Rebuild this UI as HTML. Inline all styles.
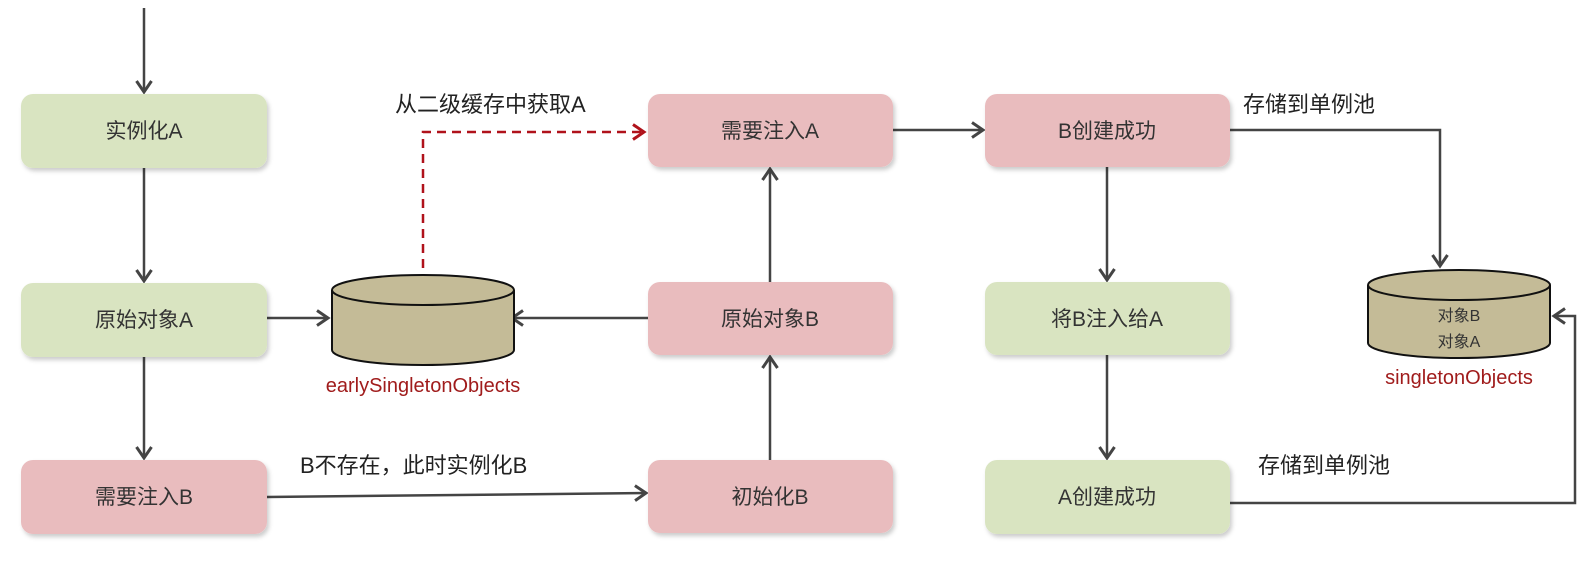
<!DOCTYPE html>
<html><head><meta charset="utf-8"><style>
body{margin:0;background:#fff;width:1586px;height:583px;overflow:hidden}
svg text{font-family:"Liberation Sans","Noto Sans CJK SC",sans-serif}
</style></head><body>
<svg width="1586" height="583" viewBox="0 0 1586 583">
<defs>
<marker id="a" markerWidth="16" markerHeight="18" refX="13" refY="9" orient="auto" markerUnits="userSpaceOnUse"><path d="M2,1.5 L13,9 L2,16.5" fill="none" stroke="#444" stroke-width="3"/></marker>
<marker id="r" markerWidth="16" markerHeight="18" refX="13" refY="9" orient="auto" markerUnits="userSpaceOnUse"><path d="M2,1.5 L13,9 L2,16.5" fill="none" stroke="#b0121b" stroke-width="3"/></marker>
<filter id="s" x="-5%" y="-5%" width="115%" height="125%"><feDropShadow dx="2" dy="3" stdDeviation="2" flood-opacity="0.2"/></filter>
</defs>
<g stroke="#444" stroke-width="2.5" fill="none">
<line x1="144" y1="8" x2="144" y2="92" marker-end="url(#a)"/>
<line x1="144" y1="168" x2="144" y2="281" marker-end="url(#a)"/>
<line x1="144" y1="357" x2="144" y2="458" marker-end="url(#a)"/>
<line x1="267" y1="318" x2="328" y2="318" marker-end="url(#a)"/>
<line x1="648" y1="318" x2="512" y2="318" marker-end="url(#a)"/>
<line x1="267" y1="497" x2="646" y2="493" marker-end="url(#a)"/>
<line x1="770" y1="460" x2="770" y2="357" marker-end="url(#a)"/>
<line x1="770" y1="282" x2="770" y2="169" marker-end="url(#a)"/>
<line x1="893" y1="130" x2="983" y2="130" marker-end="url(#a)"/>
<line x1="1107" y1="167" x2="1107" y2="280" marker-end="url(#a)"/>
<line x1="1107" y1="355" x2="1107" y2="458" marker-end="url(#a)"/>
<polyline points="1230,130 1440,130 1440,266" marker-end="url(#a)"/>
<polyline points="1230,503 1575,503 1575,316 1554,316" marker-end="url(#a)"/>
</g>
<polyline points="423,268 423,132 644,132" fill="none" stroke="#b0121b" stroke-width="2.5" stroke-dasharray="9,6" marker-end="url(#r)"/>
<g filter="url(#s)">
<rect x="21" y="94" width="246" height="74" rx="12" fill="#d9e4c1"/>
<rect x="21" y="283" width="246" height="74" rx="12" fill="#d9e4c1"/>
<rect x="21" y="460" width="246" height="74" rx="12" fill="#e9bcbe"/>
<rect x="648" y="94" width="245" height="73" rx="12" fill="#e9bcbe"/>
<rect x="648" y="282" width="245" height="73" rx="12" fill="#e9bcbe"/>
<rect x="648" y="460" width="245" height="73" rx="12" fill="#e9bcbe"/>
<rect x="985" y="94" width="245" height="73" rx="12" fill="#e9bcbe"/>
<rect x="985" y="282" width="245" height="73" rx="12" fill="#d9e4c1"/>
<rect x="985" y="460" width="245" height="74" rx="12" fill="#d9e4c1"/>
</g>
<g stroke="#111" stroke-width="2" fill="#c4bb97">
<path d="M332,290 L332,350 A91,15 0 0 0 514,350 L514,290"/>
<ellipse cx="423" cy="290" rx="91" ry="15"/>
<path d="M1368,285 L1368,343 A91,15 0 0 0 1550,343 L1550,285"/>
<ellipse cx="1459" cy="285" rx="91" ry="15"/>
</g>
<g font-size="21" fill="#333" text-anchor="middle">
<text x="144" y="138">实例化A</text>
<text x="144" y="327">原始对象A</text>
<text x="144" y="504">需要注入B</text>
<text x="770" y="138">需要注入A</text>
<text x="770" y="326">原始对象B</text>
<text x="770" y="504">初始化B</text>
<text x="1107" y="138">B创建成功</text>
<text x="1107" y="326">将B注入给A</text>
<text x="1107" y="504">A创建成功</text>
<text x="1459" y="321" font-size="16">对象B</text>
<text x="1459" y="347" font-size="16">对象A</text>
</g>
<g font-size="22" fill="#222">
<text x="395" y="112">从二级缓存中获取A</text>
<text x="300" y="473">B不存在，此时实例化B</text>
<text x="1243" y="112">存储到单例池</text>
<text x="1258" y="473">存储到单例池</text>
</g>
<text x="423" y="392" font-size="20" fill="#a01c1c" text-anchor="middle">earlySingletonObjects</text>
<text x="1459" y="384" font-size="20" fill="#a01c1c" text-anchor="middle">singletonObjects</text>
</svg>
</body></html>
